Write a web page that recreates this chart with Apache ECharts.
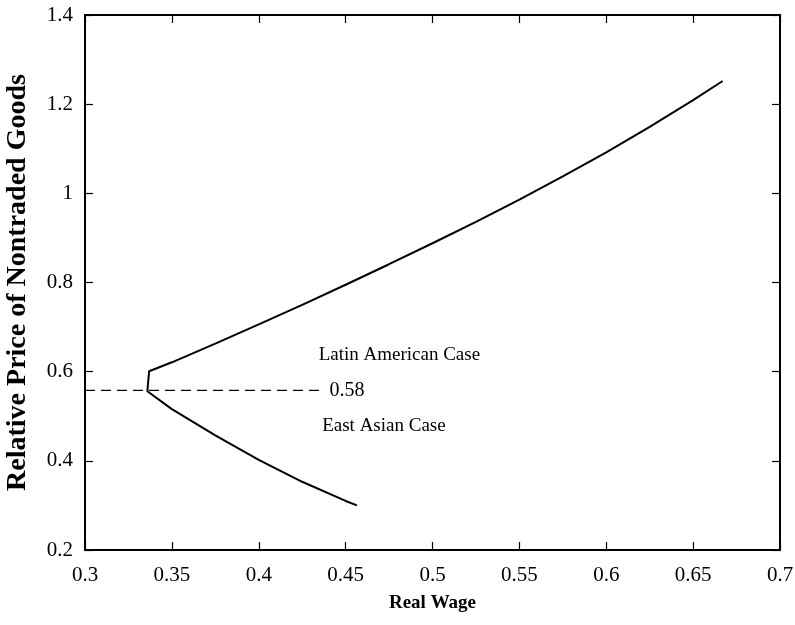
<!DOCTYPE html>
<html>
<head>
<meta charset="utf-8">
<script src="https://cdn.jsdelivr.net/npm/echarts@6/dist/echarts.min.js"></script>
<style>
  html, body { margin: 0; padding: 0; background: #fff; }
  #main { width: 795px; height: 625px; }
</style>
</head>
<body>
<div id="main"></div>
<script>
var chart = echarts.init(document.getElementById('main'));

// upper branch (Latin American case)
var upperWage = [0.3369, 0.35, 0.375, 0.4, 0.425, 0.45, 0.475, 0.5, 0.525, 0.55, 0.575, 0.6, 0.625, 0.65, 0.667]
var upperPrice = [0.601, 0.621, 0.663, 0.706, 0.750, 0.795, 0.841, 0.888, 0.936, 0.986, 1.038, 1.092, 1.149, 1.209, 1.252]
// lower branch (East Asian case)
var lowerWage = [0.3359, 0.3355, 0.35, 0.375, 0.4, 0.425, 0.45, 0.4565]
var lowerPrice = [0.556, 0.552, 0.516, 0.457, 0.402, 0.353, 0.310, 0.300]
// dashed reference level
var refWage = [0.3, 0.435]
var refPrice = [0.558, 0.558]
var refText = '0.58'
// case labels
var caseNames = ['Latin American Case', 'East Asian Case']
var caseWage = [0.4345, 0.4365]
var casePrice = [0.637, 0.479]

var font = 'Liberation Serif'

// one continuous line: upper branch from its end back to the kink, then down the lower branch
var curve = []
for (var i = upperWage.length - 1; i >= 0; i--) curve.push([upperWage[i], upperPrice[i]])
for (var j = 0; j < lowerWage.length; j++) curve.push([lowerWage[j], lowerPrice[j]])

var refLine = refWage.map(function (w, k) { return [w, refPrice[k]] })
var caseData = caseNames.map(function (n, k) { return { name: n, value: [caseWage[k], casePrice[k]] } })

var axisLine = { show: true, lineStyle: { color: '#000', width: 2 } }
var tick = { show: true, inside: true, length: 8, lineStyle: { color: '#000', width: 1.2 } }

var option = {
  backgroundColor: '#fff',
  animation: false,
  grid: { left: 85, right: 15, top: 15, bottom: 75, containLabel: false, outerBoundsMode: 'none' },
  xAxis: [{
    type: 'value', min: 0.3, max: 0.7, interval: 0.05,
    name: 'Real Wage', nameLocation: 'middle', nameGap: 44,
    nameTextStyle: { fontFamily: font, fontWeight: 'bold', fontSize: 19, color: '#000' },
    axisLine: axisLine, axisTick: tick, splitLine: { show: false },
    axisLabel: { fontFamily: font, fontSize: 21, color: '#000', margin: 15 }
  }, {
    type: 'value', position: 'top', min: 0.3, max: 0.7, interval: 0.05,
    axisLine: axisLine, axisTick: tick, splitLine: { show: false }, axisLabel: { show: false }
  }],
  yAxis: [{
    type: 'value', min: 0.2, max: 1.4, interval: 0.2,
    name: 'Relative Price of Nontraded Goods', nameLocation: 'middle', nameGap: 53,
    nameTextStyle: { fontFamily: font, fontWeight: 'bold', fontSize: 28, color: '#000' },
    axisLine: axisLine, axisTick: tick, splitLine: { show: false },
    axisLabel: { fontFamily: font, fontSize: 21, color: '#000', margin: 12 }
  }, {
    type: 'value', position: 'right', min: 0.2, max: 1.4, interval: 0.2,
    axisLine: axisLine, axisTick: tick, splitLine: { show: false }, axisLabel: { show: false }
  }],
  series: [
    {
      name: 'curve', type: 'line', data: curve, showSymbol: false, symbol: 'none',
      lineStyle: { color: '#000', width: 2 }
    },
    {
      name: 'ref', type: 'line', data: refLine, symbol: 'none',
      lineStyle: { color: '#000', width: 1.4, type: [10, 6] },
      endLabel: { show: true, formatter: refText, fontFamily: font, fontSize: 20, color: '#000', distance: 10 }
    },
    {
      name: 'cases', type: 'scatter', data: caseData, symbolSize: 0,
      itemStyle: { opacity: 1 },
      label: {
        show: true, position: 'right', distance: 0, formatter: '{b}', opacity: 1,
        fontFamily: font, fontSize: 19, color: '#000'
      }
    }
  ]
};

chart.setOption(option);
</script>
</body>
</html>
